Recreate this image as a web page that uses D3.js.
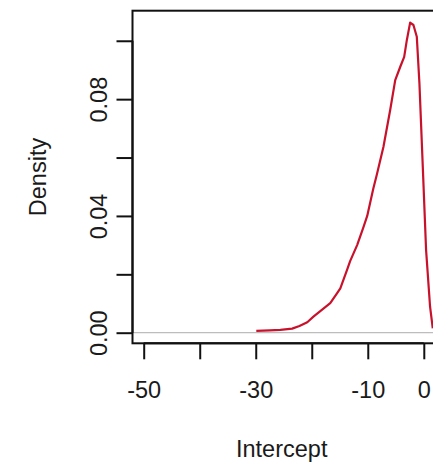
<!DOCTYPE html>
<html>
<head>
<meta charset="utf-8">
<script src="https://cdn.jsdelivr.net/npm/d3@7"></script>
<style>
  html, body { margin: 0; padding: 0; background: #fff; }
  svg { display: block; }
  text { font-family: "Liberation Sans", Arial, sans-serif; fill: #1a1a1a; }
</style>
</head>
<body>
<svg id="chart" width="433" height="465"></svg>
<script>
// Kernel density estimate of the intercept
const intercept = [-29.9, -27.5, -25.6, -23.5, -22.2, -20.8, -19.7, -18.2, -16.7, -15.5,
                   -14.9, -13.7, -13.15, -11.9, -10.8, -10.1, -9.0, -8.4, -7.2, -6.0,
                   -5.1, -4.2, -3.5, -3.03, -2.44, -1.85, -1.25, -0.78, -0.18, 0.41,
                   1.12, 1.6];
const density   = [0.0006, 0.0008, 0.0010, 0.0014, 0.0023, 0.0036, 0.0055, 0.0078, 0.0101, 0.0135,
                   0.0152, 0.0215, 0.0245, 0.0300, 0.0360, 0.0400, 0.0495, 0.0540, 0.0637, 0.0763,
                   0.0865, 0.0911, 0.0945, 0.1002, 0.1062, 0.1054, 0.1014, 0.0854, 0.0568, 0.0283,
                   0.0089, 0.0015];

const xTicks = [-50, -40, -30, -20, -10, 0];
const xTickLabels = ["-50", "", "-30", "", "-10", "0"];
const yTicks = [0, 0.02, 0.04, 0.06, 0.08, 0.10];
const yTickLabels = ["0.00", "", "0.04", "", "0.08", ""];

const svg = d3.select("#chart");
const box = { left: 132.5, right: 435, top: 10.7, bottom: 343.3 };

const x = d3.scaleLinear().domain([-52, 2]).range([box.left, box.right]);
const y = d3.scaleLinear().domain([-0.00363, 0.1103]).range([box.bottom, box.top]);

const fontSize = 23.5;

// zero reference line
svg.append("line")
  .attr("x1", box.left).attr("x2", box.right)
  .attr("y1", y(0)).attr("y2", y(0))
  .attr("stroke", "#bdbdbd").attr("stroke-width", 1.3);

// density curve
const pts = intercept.map((v, i) => [v, density[i]]);
svg.append("path")
  .datum(pts)
  .attr("fill", "none")
  .attr("stroke", "#c8122c")
  .attr("stroke-width", 2.2)
  .attr("stroke-linejoin", "round")
  .attr("d", d3.line().x(d => x(d[0])).y(d => y(d[1])));

// plot frame
svg.append("rect")
  .attr("x", box.left).attr("y", box.top)
  .attr("width", box.right - box.left).attr("height", box.bottom - box.top)
  .attr("fill", "none").attr("stroke", "#111").attr("stroke-width", 2);

// x axis
const xAxis = d3.axisBottom(x)
  .tickValues(xTicks)
  .tickFormat((d, i) => xTickLabels[i])
  .tickSize(16)
  .tickPadding(22);
const gx = svg.append("g")
  .attr("transform", `translate(0,${box.bottom})`)
  .call(xAxis);
gx.select(".domain")
  .attr("d", `M${x(-50)},0H${x(0)}`)
  .attr("stroke", "#111").attr("stroke-width", 2);
gx.selectAll(".tick line").attr("stroke", "#111").attr("stroke-width", 2);
gx.selectAll(".tick text")
  .attr("font-size", fontSize)
  .attr("font-family", "Liberation Sans, Arial, sans-serif")
  .attr("fill", "#1a1a1a");

// y axis
const yAxis = d3.axisLeft(y)
  .tickValues(yTicks)
  .tickFormat((d, i) => yTickLabels[i])
  .tickSize(16)
  .tickPadding(0);
const gy = svg.append("g")
  .attr("transform", `translate(${box.left},0)`)
  .call(yAxis);
gy.select(".domain")
  .attr("d", `M0,${y(0)}V${y(0.10)}`)
  .attr("stroke", "#111").attr("stroke-width", 2);
gy.selectAll(".tick line").attr("stroke", "#111").attr("stroke-width", 2);
gy.selectAll(".tick text")
  .attr("font-size", fontSize)
  .attr("font-family", "Liberation Sans, Arial, sans-serif")
  .attr("fill", "#1a1a1a")
  .attr("text-anchor", "middle")
  .attr("dy", 0)
  .attr("x", 0)
  .attr("transform", `translate(${107 - box.left},0) rotate(-90)`);

// axis titles
svg.append("text")
  .attr("x", 281.7).attr("y", 457)
  .attr("text-anchor", "middle")
  .attr("font-size", fontSize)
  .text("Intercept");

svg.append("text")
  .attr("transform", `translate(46,${(box.top + box.bottom) / 2}) rotate(-90)`)
  .attr("text-anchor", "middle")
  .attr("font-size", fontSize)
  .text("Density");
</script>
</body>
</html>
